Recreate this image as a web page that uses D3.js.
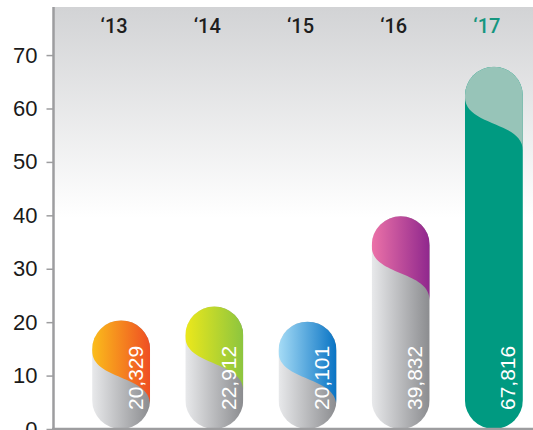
<!DOCTYPE html>
<html><head><meta charset="utf-8">
<script src="https://cdn.jsdelivr.net/npm/d3@7"></script>
<style>html,body{margin:0;padding:0;background:#fff;}svg{display:block;}</style>
</head><body>
<script>
// ---- data ----
const years = ["\u201813", "\u201814", "\u201815", "\u201816", "\u201817"];
const values = [20.329, 22.912, 20.101, 39.832, 67.816];           // thousands
const yTicks = [0, 10, 20, 30, 40, 50, 60, 70];
const capLeft  = ["#fbbd1b", "#ece81b", "#a6dcf6", "#ec72a8", "#97c4b8"];
const capRight = ["#ef4e23", "#8cc53f", "#0873c4", "#8f278d", "#97c4b8"];
const bodyLeft  = ["#e8e9eb", "#e8e9eb", "#e8e9eb", "#e8e9eb", "#009a81"];
const bodyRight = ["#8b8c8f", "#8b8c8f", "#8b8c8f", "#8b8c8f", "#009a81"];
const yearColors = ["#1e1e1e", "#1e1e1e", "#1e1e1e", "#1e1e1e", "#16967f"];

const W = 533, H = 430;
const svg = d3.select("body").append("svg").attr("width", W).attr("height", H);
const defs = svg.append("defs");

const x = d3.scaleBand().domain(years).range([74.5, 540.5]).paddingInner(0.378).paddingOuter(0.189);
const y = d3.scaleLinear().domain([0, 79]).range([429, 7]);

// background panel gradient
const bg = defs.append("linearGradient").attr("id", "bg").attr("x1", 0).attr("x2", 0).attr("y1", 0).attr("y2", 1);
bg.append("stop").attr("offset", "0%").attr("stop-color", "#d2d3d5");
bg.append("stop").attr("offset", "50%").attr("stop-color", "#ffffff");
bg.append("stop").attr("offset", "100%").attr("stop-color", "#ffffff");
svg.append("rect").attr("x", 53).attr("y", y(79)).attr("width", W - 53).attr("height", y(0) - y(79)).attr("fill", "url(#bg)");

// year labels
svg.append("g").selectAll("text").data(years).join("text")
  .attr("x", d => x(d) + x.bandwidth() / 2 - 7)
  .attr("y", 33)
  .attr("text-anchor", "middle")
  .attr("font-family", "Roboto, 'Liberation Sans', sans-serif")
  .attr("font-weight", 500)
  .attr("font-size", 20)
  .attr("fill", (d, i) => yearColors[i])
  .text(d => d);

// bars
const bw = x.bandwidth(), r = bw / 2;
years.forEach((yr, i) => {
  const L = x(yr), R = L + bw, top = y(values[i]), bot = y(0);
  const gC = defs.append("linearGradient").attr("id", "gc" + i);
  gC.append("stop").attr("offset", "0%").attr("stop-color", capLeft[i]);
  gC.append("stop").attr("offset", "100%").attr("stop-color", capRight[i]);
  const gB = defs.append("linearGradient").attr("id", "gb" + i);
  gB.append("stop").attr("offset", "0%").attr("stop-color", bodyLeft[i]);
  gB.append("stop").attr("offset", "100%").attr("stop-color", bodyRight[i]);
  defs.append("clipPath").attr("id", "cp" + i).append("rect")
    .attr("x", L).attr("y", top).attr("width", bw).attr("height", bot - top).attr("rx", r).attr("ry", r);

  const g = svg.append("g").attr("clip-path", `url(#cp${i})`);
  g.append("rect").attr("x", L).attr("y", top).attr("width", bw).attr("height", bot - top).attr("fill", `url(#gb${i})`);
  const yS = top + 30, yE = top + 84, D = yE - yS, k = 0.55 * D;
  const p = d3.path();
  p.moveTo(L, top - 2); p.lineTo(R, top - 2); p.lineTo(R, yE);
  p.bezierCurveTo(R, yE - k, L, yS + k, L, yS); p.closePath();
  g.append("path").attr("d", p.toString()).attr("fill", `url(#gc${i})`);

  svg.append("text")
    .attr("transform", `translate(${R - 7.5},${410}) rotate(-90)`)
    .attr("font-family", "'Liberation Sans', Arial, sans-serif")
    .attr("font-size", 21)
    .attr("fill", "#ffffff")
    .text(d3.format(",.0f")(values[i] * 1000));
});

// axes
const yAxis = svg.append("g").attr("transform", "translate(53.5,0)")
  .call(d3.axisLeft(y).tickValues(yTicks).tickSize(7).tickPadding(9).tickFormat(d3.format("d")));
yAxis.select(".domain").attr("stroke", "#9d9d9f").attr("stroke-width", 2.5).attr("d", `M0,${y(79)}V${y(0)}`);
yAxis.selectAll(".tick line").attr("stroke", "#9d9d9f").attr("stroke-width", 1.5);
yAxis.selectAll(".tick text").attr("font-family", "'Liberation Sans', Arial, sans-serif").attr("font-size", 22).attr("fill", "#1a1a1a");

svg.append("line").attr("x1", 52).attr("x2", W).attr("y1", y(0)).attr("y2", y(0))
  .attr("stroke", "#9d9d9f").attr("stroke-width", 2.5);
</script>
</body></html>
